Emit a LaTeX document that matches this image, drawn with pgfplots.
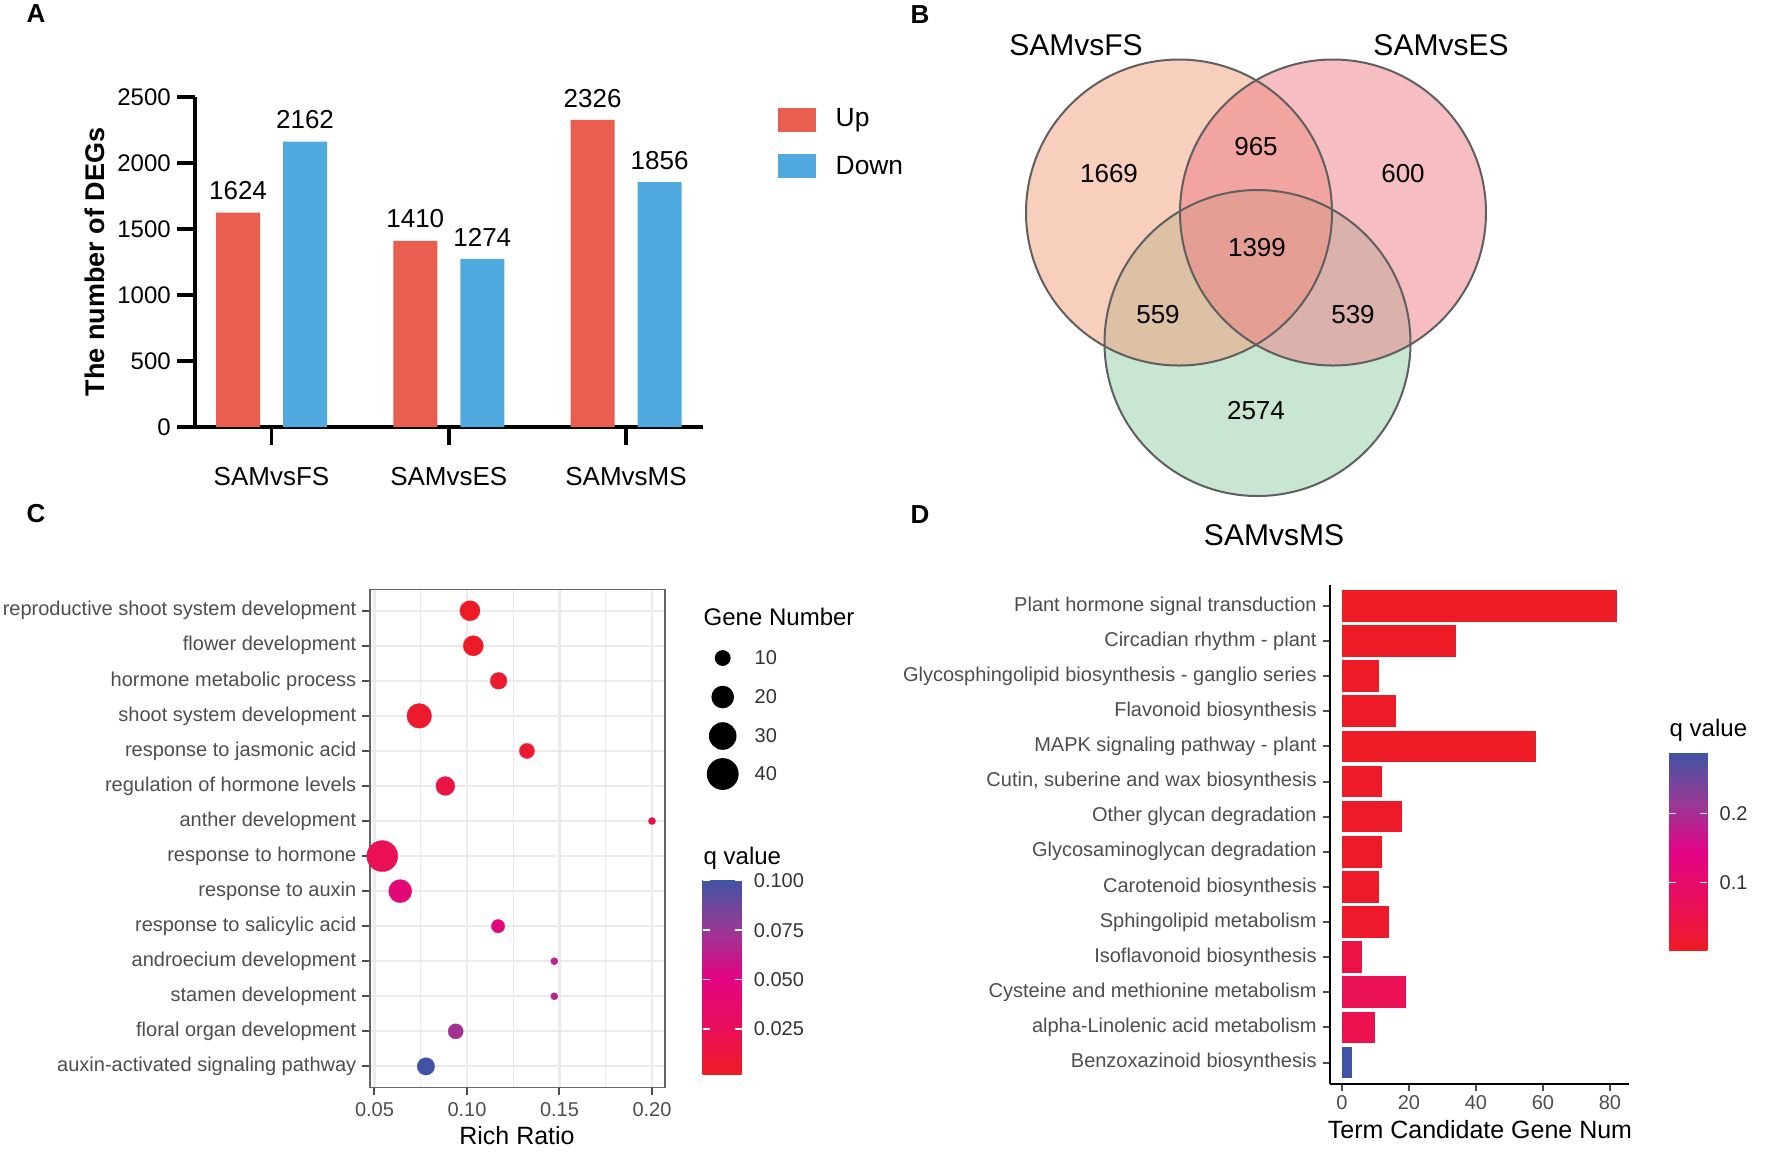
\documentclass[border=0pt]{standalone}
\usepackage{fontspec}
\setmainfont{Liberation Sans}
\usepackage{pgfplots}
\usepackage{pgfplotstable}
\pgfplotsset{compat=1.18}

\newcommand\fs[1]{\fontsize{#1}{#1}\selectfont}

\definecolor{upc}{RGB}{233,94,79}
\definecolor{downc}{RGB}{80,170,223}
\definecolor{fsc}{RGB}{241,157,121}
\definecolor{esc}{RGB}{237,125,133}
\definecolor{msc}{RGB}{145,205,165}
\definecolor{vline}{RGB}{95,95,95}
\definecolor{txtg}{RGB}{77,77,77}
\definecolor{gridg}{RGB}{235,235,235}

\pgfplotsset{colormap={qmap}{rgb255=(237,28,36) rgb255=(233,14,92) rgb255=(226,4,132) rgb255=(150,58,150) rgb255=(63,84,164)}}

% horizontal bar drawn as a marker, from the point back to x = 0
\pgfdeclareplotmark{hbar}{%
  \pgfpathrectanglecorners{\pgfpoint{-\barlen mm}{-1.58mm}}{\pgfpoint{0pt}{1.58mm}}%
  \pgfusepathqfill}

% A: DEG counts
\pgfplotstableread{
cat up down
0 1624 2162
1 1410 1274
2 2326 1856
}\degtable

% C: GO enrichment (pos 14 = top row)
\pgfplotstableread{
pos ratio n q
14 0.1016 16 0.0030
13 0.1034 16 0.0040
12 0.1171 11 0.0060
11 0.0742 24 0.0060
10 0.1324 9 0.0080
9 0.0883 14 0.0160
8 0.2000 2 0.0180
7 0.0542 38 0.0240
6 0.0639 21 0.0440
5 0.1168 7 0.0480
4 0.1472 2 0.0660
3 0.1472 2 0.0660
2 0.0939 9 0.0720
1 0.0778 12 0.1000
}\gotable

% D: KEGG enrichment (pos 14 = top row)
\pgfplotstableread{
pos n q
14 82 0.003
13 34 0.004
12 11 0.006
11 16 0.006
10 58 0.003
9 12 0.007
8 18 0.008
7 12 0.009
6 11 0.009
5 14 0.010
4 6 0.045
3 19 0.065
2 10 0.055
1 3 0.2885
}\keggtable

\begin{document}
\begin{tikzpicture}
\useasboundingbox (0,0) rectangle (177.2mm,-115.7mm);

% ---------------- A ----------------
\begin{axis}[
  at={(19.5mm,-42.7mm)}, anchor=south west,
  scale only axis, width=50.8mm, height=33mm,
  xmin=-0.4316, xmax=2.434, ymin=0, ymax=2500,
  axis lines*=left,
  axis line style={line width=0.4mm},
  tick align=outside, major tick length=1.75mm,
  tick style={black, line width=0.35mm},
  xtick={0,1,2}, xticklabels={SAMvsFS,SAMvsES,SAMvsMS},
  ytick={0,500,...,2500},
  xticklabel style={font=\fs{7.4pt}, inner sep=0pt, yshift=-2.2mm},
  yticklabel style={font=\fs{6.83pt}, inner sep=0pt, xshift=-0.6mm},
  /pgf/number format/assume math mode=true,
  /pgf/number format/1000 sep={},
  clip=false,
  nodes near coords,
  nodes near coords style={font=\fs{7.4pt}, inner sep=0pt, anchor=south, yshift=1.2mm},
]
\addplot[ybar, bar width=4.4mm, bar shift=-3.35mm, fill=upc, draw=none,
  every node near coord/.append style={xshift=-3.35mm}] table[x=cat, y=up] {\degtable};
\addplot[ybar, bar width=4.4mm, bar shift=3.35mm, fill=downc, draw=none,
  every node near coord/.append style={xshift=3.35mm}] table[x=cat, y=down] {\degtable};
\end{axis}

% ---------------- B ----------------
\begin{axis}[
  at={(100mm,-52mm)}, anchor=south west,
  scale only axis, width=52mm, height=50mm,
  xmin=1000, xmax=1520, ymin=-520, ymax=-20,
  hide axis, clip=false,
]
\fill[msc, fill opacity=0.5] (axis cs:1257.5,-343) circle[radius=153];
\fill[fsc, fill opacity=0.5] (axis cs:1179,-212.5) circle[radius=153];
\fill[esc, fill opacity=0.5] (axis cs:1333,-212.5) circle[radius=153];
\draw[vline, line width=0.2mm] (axis cs:1257.5,-343) circle[radius=153];
\draw[vline, line width=0.2mm] (axis cs:1179,-212.5) circle[radius=153];
\draw[vline, line width=0.2mm] (axis cs:1333,-212.5) circle[radius=153];
\begin{scope}[every node/.style={font=\fs{7.4pt}, inner sep=0pt}]
\node at (axis cs:1109,-174) {1669};
\node at (axis cs:1256,-147) {965};
\node at (axis cs:1403,-174) {600};
\node at (axis cs:1257,-248) {1399};
\node at (axis cs:1158,-315) {559};
\node at (axis cs:1353,-315) {539};
\node at (axis cs:1256,-411) {2574};
\end{scope}
\end{axis}

% ---------------- C ----------------
\begin{axis}[
  at={(37mm,-108.74mm)}, anchor=south west,
  scale only axis, width=29.5mm, height=49.77mm,
  xmin=0.04757, xmax=0.20703, ymin=0.4, ymax=14.6,
  axis line style={black!60, line width=0.15mm},
  tick pos=left, tick align=outside, major tick length=0.8mm,
  tick style={black!70, line width=0.2mm},
  xtick={0.05,0.1,0.15,0.2}, xticklabels={0.05,0.10,0.15,0.20},
  minor xtick={0.075,0.125,0.175}, minor tick length=0pt,
  ytick={1,...,14},
  yticklabels={auxin-activated signaling pathway, floral organ development,
    stamen development, androecium development, response to salicylic acid,
    response to auxin, response to hormone, anther development,
    regulation of hormone levels, response to jasmonic acid,
    shoot system development, hormone metabolic process, flower development,
    reproductive shoot system development},
  xmajorgrids, ymajorgrids, xminorgrids,
  major grid style={gridg, line width=0.22mm},
  minor grid style={gridg, line width=0.12mm},
  tick label style={font=\fs{5.69pt}, text=txtg, inner sep=0pt},
  yticklabel style={xshift=-0.5mm},
  xticklabel style={yshift=-0.6mm},
  colormap name=qmap,
  point meta min=0.0021, point meta max=0.1007,
  colorbar,
  colorbar style={
    at={(parent axis.south east)}, anchor=south west,
    xshift=0.77mm, yshift=1.31mm,
    scale only axis, width=3.9mm, height=19.5mm,
    axis line style={draw=none},
    xmajorgrids=false, ymajorgrids=false, xminorgrids=false,
    ytick={0.025,0.05,0.075,0.1}, yticklabels={0.025,0.050,0.075,0.100},
    yticklabel pos=right,
    tick align=inside, major tick length=0.7mm,
    tick style={white, line width=0.15mm},
    yticklabel style={font=\fs{5.69pt}, text=black!80, inner sep=0pt, xshift=1.15mm},
  },
]
\addplot[scatter, only marks, mark=*, point meta=\thisrow{q},
  mark options={line width=0.1pt},
  scatter/use mapped color={draw=mapped color, fill=mapped color},
  visualization depends on={0.7156*sqrt(\thisrow{n}) \as \rad},
  scatter/@pre marker code/.append style={/tikz/mark size=\rad}]
  table[x=ratio, y=pos] {\gotable};
\end{axis}

% ---------------- D ----------------
\begin{axis}[
  at={(133mm,-108.36mm)}, anchor=south west,
  scale only axis, width=29.9mm, height=49.88mm,
  xmin=-3.58, xmax=85.7, ymin=0.4, ymax=14.6,
  axis lines*=left,
  axis line style={black, line width=0.2mm},
  tick align=outside, major tick length=0.7mm,
  tick style={black!70, line width=0.2mm},
  xtick={0,20,...,80},
  ytick={1,...,14},
  yticklabels={Benzoxazinoid biosynthesis, alpha-Linolenic acid metabolism,
    Cysteine and methionine metabolism, Isoflavonoid biosynthesis,
    Sphingolipid metabolism, Carotenoid biosynthesis,
    Glycosaminoglycan degradation, Other glycan degradation,
    {Cutin, suberine and wax biosynthesis}, MAPK signaling pathway - plant,
    Flavonoid biosynthesis, Glycosphingolipid biosynthesis - ganglio series,
    Circadian rhythm - plant, Plant hormone signal transduction},
  tick label style={font=\fs{5.69pt}, text=txtg, inner sep=0pt},
  yticklabel style={xshift=-0.57mm},
  xticklabel style={yshift=-0.4mm},
  /pgf/number format/assume math mode=true,
  colormap name=qmap,
  point meta min=0.001, point meta max=0.2885,
  colorbar,
  colorbar style={
    at={(parent axis.south east)}, anchor=south west,
    xshift=1.0mm, yshift=13.32mm,
    scale only axis, width=3.83mm, height=19.79mm,
    axis line style={draw=none},
    axis lines=box,
    ytick={0.1,0.2}, yticklabels={0.1,0.2},
    yticklabel pos=right,
    tick align=inside, major tick length=0.7mm,
    tick style={white, line width=0.15mm},
    yticklabel style={font=\fs{5.69pt}, text=black!80, inner sep=0pt, xshift=1.17mm},
  },
]
\addplot[scatter, only marks, mark=hbar, point meta=\thisrow{q},
  scatter/use mapped color={draw=mapped color, fill=mapped color},
  visualization depends on={0.3349*\thisrow{n} \as \barlen}]
  table[x=n, y=pos] {\keggtable};
\end{axis}

% ---------------- labels, legends ----------------
\begin{scope}[x=0.1mm, y=-0.1mm]
\node[font=\bfseries\fs{7.4pt}, inner sep=0pt] at (36,14) {A};
\node[font=\bfseries\fs{7.4pt}, inner sep=0pt] at (920,15) {B};
\node[font=\bfseries\fs{7.4pt}, inner sep=0pt] at (36,514) {C};
\node[font=\bfseries\fs{7.4pt}, inner sep=0pt] at (920,515) {D};

% A
\node[rotate=90, font=\bfseries\fs{7.68pt}, inner sep=0pt] at (95,262) {The number of DEGs};
\fill[upc] (778,108) rectangle (816,132);
\fill[downc] (778,154) rectangle (816,178);
\node[anchor=west, font=\fs{7.5pt}, inner sep=0pt] at (835,120) {Up};
\node[anchor=west, font=\fs{7.5pt}, inner sep=0pt] at (835,166) {Down};

% B
\node[font=\fs{8.54pt}, inner sep=0pt] at (1076,45) {SAMvsFS};
\node[font=\fs{8.54pt}, inner sep=0pt] at (1441,45) {SAMvsES};
\node[font=\fs{8.54pt}, inner sep=0pt] at (1274,535) {SAMvsMS};

% C
\node[font=\fs{7.11pt}, inner sep=0pt] at (517,1136) {Rich Ratio};
\node[anchor=west, font=\fs{6.83pt}, inner sep=0pt] at (703,617) {Gene Number};
\node[anchor=west, font=\fs{6.83pt}, inner sep=0pt] at (703,858) {q value};
\fill[black] (722.7,658) circle[radius=7.9];
\fill[black] (722.7,697) circle[radius=11.3];
\fill[black] (722.7,736) circle[radius=13.8];
\fill[black] (722.7,774) circle[radius=15.9];
\node[anchor=west, font=\fs{5.69pt}, text=black!80, inner sep=0pt] at (754,658) {10};
\node[anchor=west, font=\fs{5.69pt}, text=black!80, inner sep=0pt] at (754,697) {20};
\node[anchor=west, font=\fs{5.69pt}, text=black!80, inner sep=0pt] at (754,736) {30};
\node[anchor=west, font=\fs{5.69pt}, text=black!80, inner sep=0pt] at (754,774) {40};

% D
\node[font=\fs{7.11pt}, inner sep=0pt] at (1480,1130) {Term Candidate Gene Num};
\node[anchor=west, font=\fs{6.83pt}, inner sep=0pt] at (1669,730) {q value};
\end{scope}
\end{tikzpicture}
\end{document}
